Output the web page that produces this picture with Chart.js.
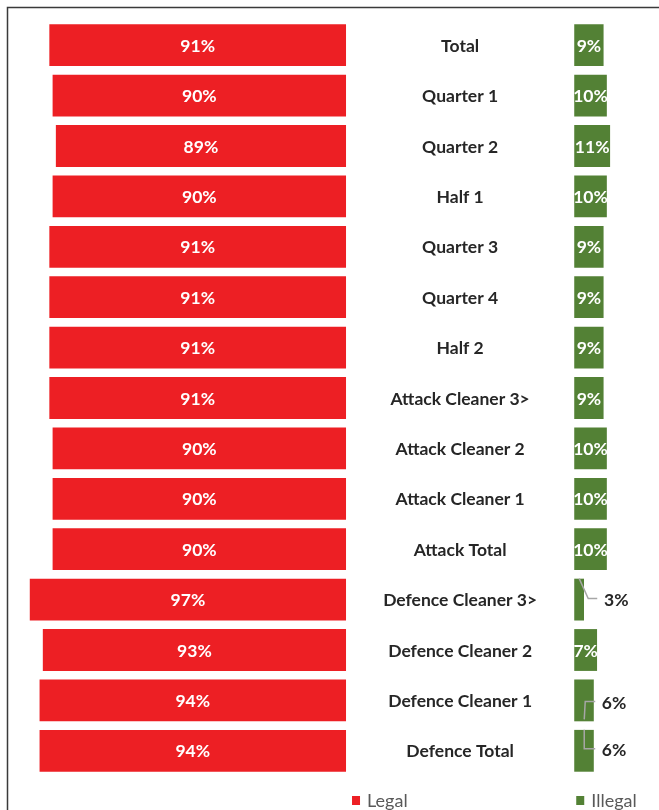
<!DOCTYPE html>
<html>
<head>
<meta charset="utf-8">
<script src="https://cdn.jsdelivr.net/npm/chart.js@4"></script>
<style>
  html, body { margin: 0; padding: 0; background: #fff; }
  #wrap { width: 659px; height: 810px; position: relative; }
</style>
</head>
<body>
<div id="wrap"><canvas id="legalChart"></canvas></div>
<script>
/* ================= DATA ================= */
const categories = [
    'Total', 'Quarter 1', 'Quarter 2', 'Half 1', 'Quarter 3', 'Quarter 4', 'Half 2',
    'Attack Cleaner 3>', 'Attack Cleaner 2', 'Attack Cleaner 1', 'Attack Total',
    'Defence Cleaner 3>', 'Defence Cleaner 2', 'Defence Cleaner 1', 'Defence Total'
];
const legalPct   = [91, 90, 89, 90, 91, 91, 91, 91, 90, 90, 90, 97, 93, 94, 94];
const illegalPct = [9, 10, 11, 10, 9, 9, 9, 9, 10, 10, 10, 3, 7, 6, 6];
const seriesNames = ['Legal', 'Illegal'];

/* ================= STYLE ================= */
const RED = '#ED1F24';
const GREEN = '#538135';
const GAP = 70;           // space for the category labels between the two halves
const FONT = 'Lato, "Open Sans", sans-serif';

// leader lines for the small labels drawn outside the bar: [dx from bar start, dy from centre]
const leaders = {
    11: { pts: [[5, -21], [14, -1], [23, -1]], dx: 20, dy: 0 },
    13: { pts: [[10, 19], [11, 1], [21, 1]], dx: 8, dy: 2 },
    14: { pts: [[10, -21], [10, -2], [21, -2]], dx: 8, dy: -1 }
};

/* ================= FRAME + LABELS PLUGIN ================= */
const butterflyLabels = {
    id: 'butterflyLabels',
    beforeDraw(chart) {
        const ctx = chart.ctx;
        ctx.save();
        ctx.strokeStyle = '#3a3a3a';
        ctx.lineWidth = 1.5;
        ctx.beginPath();
        ctx.moveTo(7.5, chart.height);
        ctx.lineTo(7.5, 7.5);
        ctx.lineTo(chart.width, 7.5);
        ctx.stroke();
        ctx.restore();
    },
    afterDatasetsDraw(chart) {
        const ctx = chart.ctx;
        const xs = chart.scales.x;
        const ys = chart.scales.y;
        ctx.save();
        ctx.textBaseline = 'middle';

        categories.forEach((cat, i) => {
            const y = ys.getPixelForValue(i);

            // category name in the middle
            ctx.font = 'bold 17.5px ' + FONT;
            ctx.fillStyle = '#262626';
            ctx.textAlign = 'center';
            ctx.fillText(cat, xs.getPixelForValue(GAP / 2), y + 1);

            // legal value
            ctx.fillStyle = '#fff';
            ctx.fillText(legalPct[i] + '%', xs.getPixelForValue(-legalPct[i] / 2), y + 1);

            // illegal value
            const x0 = xs.getPixelForValue(GAP);
            const x1 = xs.getPixelForValue(GAP + illegalPct[i]);
            const lead = leaders[i];
            if (lead) {
                ctx.strokeStyle = '#a6a6a6';
                ctx.lineWidth = 1.5;
                ctx.beginPath();
                lead.pts.forEach((p, k) => {
                    const px = x0 + p[0], py = y + p[1];
                    if (k === 0) ctx.moveTo(px, py); else ctx.lineTo(px, py);
                });
                ctx.stroke();
                ctx.fillStyle = '#262626';
                ctx.textAlign = 'left';
                ctx.fillText(illegalPct[i] + '%', x1 + lead.dx, y + 1 + lead.dy);
            } else {
                ctx.fillStyle = '#fff';
                ctx.textAlign = 'center';
                ctx.fillText(illegalPct[i] + '%', (x0 + x1) / 2, y + 1);
            }
        });

        // legend
        const ly = 800;
        const items = [
            { name: seriesNames[0], color: RED, x: xs.getPixelForValue(0) + 6 },
            { name: seriesNames[1], color: GREEN, x: xs.getPixelForValue(GAP) + 2 }
        ];
        ctx.font = '18px ' + FONT;
        ctx.textAlign = 'left';
        items.forEach(it => {
            ctx.fillStyle = it.color;
            ctx.fillRect(it.x, ly - 4, 8, 9);
            ctx.fillStyle = '#595959';
            ctx.fillText(it.name, it.x + 15, ly + 1);
        });
        ctx.restore();
    }
};

/* ================= CHART ================= */
const ctx = document.getElementById('legalChart');
new Chart(ctx, {
    type: 'bar',
    data: {
        labels: categories,
        datasets: [
            {
                label: seriesNames[0],
                data: legalPct.map(v => [-v, 0]),
                backgroundColor: RED,
                borderWidth: 0
            },
            {
                label: seriesNames[1],
                data: illegalPct.map(v => [GAP, GAP + v]),
                backgroundColor: GREEN,
                borderWidth: 0
            }
        ]
    },
    options: {
        indexAxis: 'y',
        responsive: true,
        maintainAspectRatio: false,
        animation: false,
        grouped: false,
        barPercentage: 0.83,
        categoryPercentage: 1,
        layout: { padding: { top: 20, bottom: 34, left: 20, right: 0 } },
        plugins: {
            legend: { display: false },
            tooltip: { enabled: false }
        },
        scales: {
            x: { type: 'linear', min: -100, max: 96, display: false },
            y: { display: false }
        }
    },
    plugins: [butterflyLabels]
});
</script>
</body>
</html>
